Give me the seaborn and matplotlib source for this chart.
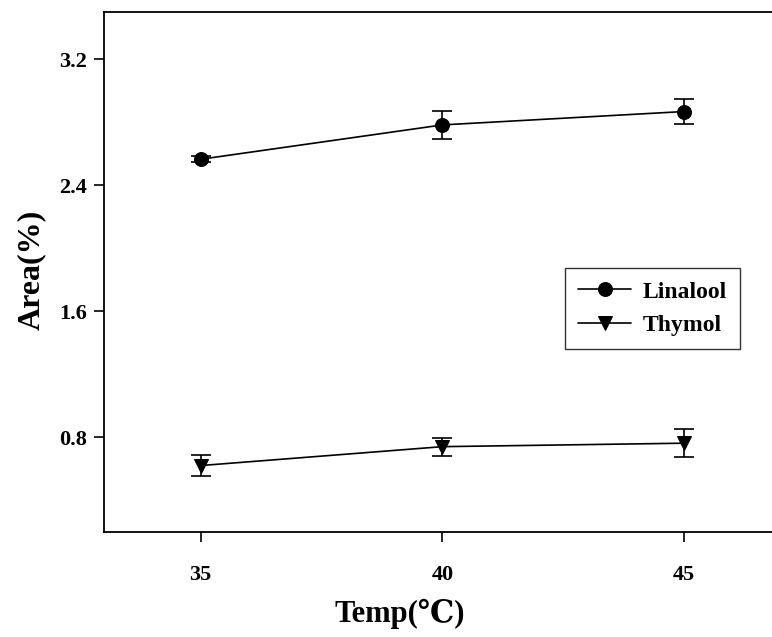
import matplotlib
matplotlib.use("Agg")
import matplotlib.pyplot as plt
import seaborn as sns
import pandas as pd

# Extraction yield vs. temperature
temps = [35, 40, 45]
linalool = [2.565, 2.783, 2.868]
linalool_err = [0.02, 0.089, 0.082]
thymol = [0.62, 0.74, 0.762]
thymol_err = [0.067, 0.057, 0.087]
series_names = ["Linalool", "Thymol"]
y_ticks = [0.8, 1.6, 2.4, 3.2]
x_ticks = [35, 40, 45]

sns.set_theme(style="white", rc={
    "text.color": "black", "axes.labelcolor": "black",
    "xtick.color": "black", "ytick.color": "black",
})
plt.rcParams["font.family"] = ["Liberation Serif", "DejaVu Serif"]
plt.rcParams["font.weight"] = "bold"

df = pd.DataFrame({
    "Temp": temps * 2,
    "Area": linalool + thymol,
    "Compound": [series_names[0]] * 3 + [series_names[1]] * 3,
})

fig = plt.figure(figsize=(7.72, 6.37), dpi=100)
ax_w = (780.7 - 104) / 772
ax_h = (531.7 - 12) / 637
ax = fig.add_axes([104 / 772, 1 - 531.7 / 637, ax_w, ax_h])

sns.lineplot(
    data=df, x="Temp", y="Area", hue="Compound", style="Compound",
    markers={"Linalool": "o", "Thymol": "v"}, dashes=False,
    palette={"Linalool": "black", "Thymol": "black"},
    markersize=10, linewidth=1.2, markeredgecolor="black", ax=ax, legend=True,
)
ax.errorbar(temps, linalool, yerr=linalool_err, fmt="none", ecolor="black",
            elinewidth=1.2, capsize=7, capthick=1.2)
ax.errorbar(temps, thymol, yerr=thymol_err, fmt="none", ecolor="black",
            elinewidth=1.2, capsize=7, capthick=1.2)

ax.set_xlim(33, 47)
ax.set_ylim(0.2, 3.5)
ax.set_xticks(x_ticks)
ax.set_yticks(y_ticks)
ax.set_yticklabels([f"{v:.1f}" for v in y_ticks])
ax.tick_params(axis="both", which="major", direction="out", length=7, width=1.2,
               color="black", labelcolor="black", labelsize=16, pad=5,
               bottom=True, left=True)
ax.tick_params(axis="x", pad=17)
for lab in ax.get_xticklabels() + ax.get_yticklabels():
    lab.set_fontweight("bold")

for s in ax.spines.values():
    s.set_color("black")
    s.set_linewidth(1.3)

ax.set_xlabel("Temp(℃)", fontsize=22, fontweight="bold", color="black")
ax.set_ylabel("Area(%)", fontsize=23, fontweight="bold", color="black")
ax.xaxis.set_label_coords((400 - 104) / 676.7, -(599 - 531.7) / 519.7)
ax.yaxis.set_label_coords((46 - 104) / 676.7, (531.7 - 270) / 519.7)

handles, labels = ax.get_legend_handles_labels()
leg = ax.legend(
    handles, labels, loc="upper left",
    bbox_to_anchor=(565 / 772, 1 - 268 / 637), bbox_transform=fig.transFigure,
    borderaxespad=0, frameon=True, fancybox=False, edgecolor="black",
    prop={"family": "Liberation Serif", "weight": "bold", "size": 17},
    handlelength=2.25, labelspacing=0.5, borderpad=0.55, handletextpad=0.5,
    labelcolor="black",
)
leg.get_frame().set_linewidth(1.0)

fig.savefig("out.png", dpi=100)
